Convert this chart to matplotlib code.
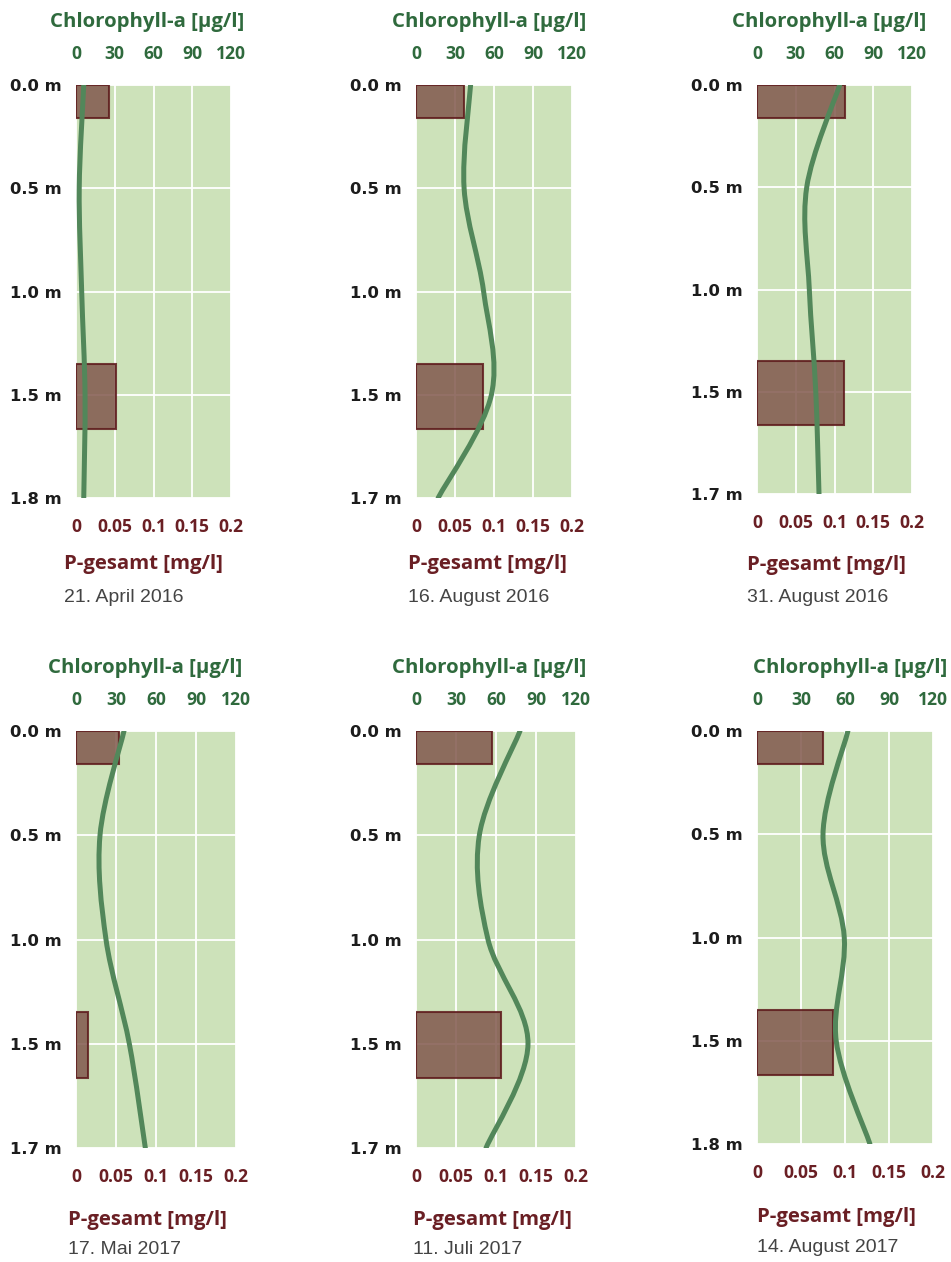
import matplotlib
matplotlib.use("Agg")
import matplotlib.pyplot as plt
from matplotlib.path import Path
from matplotlib.patches import PathPatch

W, H = 951, 1262

# data
dates = ["21. April 2016", "16. August 2016", "31. August 2016",
         "17. Mai 2017", "11. Juli 2017", "14. August 2017"]
depth_labels = [
    ["0.0", "0.5", "1.0", "1.5", "1.8"],
    ["0.0", "0.5", "1.0", "1.5", "1.7"],
    ["0.0", "0.5", "1.0", "1.5", "1.7"],
    ["0.0", "0.5", "1.0", "1.5", "1.7"],
    ["0.0", "0.5", "1.0", "1.5", "1.7"],
    ["0.0", "0.5", "1.0", "1.5", "1.8"],
]
# Chlorophyll-a [ug/l] at each depth
chl = [
    [6, 2.5, 4.4, 7, 6],
    [42, 37, 52, 58, 17],
    [64, 38.5, 40.5, 45.5, 48],
    [36, 18, 22.5, 40, 52],
    [78, 47.5, 54, 84, 52.5],
    [62, 45, 59.5, 54, 77],
]
# P-gesamt [mg/l], surface and 1.5 m
p_surface = [0.042, 0.061, 0.114, 0.054, 0.095, 0.075]
p_deep = [0.052, 0.086, 0.112, 0.015, 0.106, 0.086]

chl_ticks = [0, 30, 60, 90, 120]
p_ticks = [0, 0.05, 0.1, 0.15, 0.2]
p_tick_labels = ["0", "0.05", "0.1", "0.15", "0.2"]

# layout in pixels: plot box (left, right, top, bottom)
boxes = [(76, 231, 85, 498), (416, 572, 85, 498), (757, 912, 85, 494),
         (76, 236, 731, 1148), (416, 576, 731, 1148), (757, 933, 731, 1144)]
title_x = [50, 392, 732, 48, 392, 753]
label_x = [64, 408, 747, 68, 413, 757]
title_y = [22, 22, 22, 668, 668, 668]
plabel_y = [564, 564, 565, 1220, 1220, 1217]
date_y = [597, 597, 597, 1250, 1250, 1248]
bar_spans = [(0.0, 0.32), (2.70, 3.33)]

bg = "#cde2ba"
green_txt = "#2f6a3d"
red_txt = "#6a1f24"
line_col = "#52875a"
bar_fill = "#81584d"
bar_edge = "#5e1a1c"

bold = {"family": "Open Sans", "weight": "bold"}


def smooth_path(xs, ys):
    pts = list(zip(xs, ys))
    n = len(pts)
    verts = [pts[0]]
    codes = [Path.MOVETO]
    for i in range(n - 1):
        p0 = pts[max(i - 1, 0)]
        p1 = pts[i]
        p2 = pts[i + 1]
        p3 = pts[min(i + 2, n - 1)]
        c1 = (p1[0] + (p2[0] - p0[0]) / 6, p1[1] + (p2[1] - p0[1]) / 6)
        c2 = (p2[0] - (p3[0] - p1[0]) / 6, p2[1] - (p3[1] - p1[1]) / 6)
        verts += [c1, c2, p2]
        codes += [Path.CURVE4] * 3
    return Path(verts, codes)


fig = plt.figure(figsize=(W / 100, H / 100), dpi=100)

for i in range(6):
    l, r, t, b = boxes[i]
    ax = fig.add_axes([l / W, 1 - b / H, (r - l) / W, (b - t) / H])
    ax.set_facecolor(bg)
    ax.set_xlim(0, 0.2)
    ax.set_ylim(4, 0)
    for s in ax.spines.values():
        s.set_visible(False)
    ax.set_axisbelow(True)
    ax.grid(True, color="white", linewidth=1.3)

    ax.set_xticks(p_ticks)
    ax.set_xticklabels(p_tick_labels, fontdict=dict(bold, size=12.6), color=red_txt)
    ax.tick_params(axis="x", length=0, pad=14.5)
    ypos = list(range(len(depth_labels[i])))
    ax.set_yticks(ypos)
    ax.set_yticklabels([d + " m" for d in depth_labels[i]],
                       fontdict={"family": "DejaVu Sans", "weight": "bold", "size": 11.8},
                       color="#1c1c1c")
    ax.tick_params(axis="y", length=0, pad=10)

    # P-gesamt bars
    vals = [p_surface[i], p_deep[i]]
    for (y0, y1), v in zip(bar_spans, vals):
        ax.barh((y0 + y1) / 2, v, height=y1 - y0, left=0, color=bar_fill, alpha=0.85,
                edgecolor=bar_edge, linewidth=1.5, zorder=3)

    # Chlorophyll-a line on top axis
    ax2 = ax.twiny()
    ax2.set_xlim(0, 120)
    for s in ax2.spines.values():
        s.set_visible(False)
    ax2.set_xticks(chl_ticks)
    ax2.set_xticklabels([str(c) for c in chl_ticks], fontdict=dict(bold, size=12.6), color=green_txt)
    ax2.tick_params(axis="x", length=0, pad=16)
    path = smooth_path(chl[i], ypos)
    ax2.add_patch(PathPatch(path, fill=False, edgecolor=line_col, linewidth=3.6,
                            capstyle="round", joinstyle="round", zorder=4))

    fig.text(title_x[i] / W, 1 - title_y[i] / H, "Chlorophyll-a [µg/l]",
             ha="left", va="center", color=green_txt, fontdict=dict(bold, size=14.7))
    fig.text(label_x[i] / W, 1 - plabel_y[i] / H, "P-gesamt [mg/l]",
             ha="left", va="center", color=red_txt, fontdict=dict(bold, size=14.7))
    fig.text(label_x[i] / W, 1 - date_y[i] / H, dates[i],
             ha="left", va="center", color="#444444",
             fontdict={"family": "Liberation Sans", "size": 14})

fig.savefig("out.png", dpi=100, facecolor="white")
